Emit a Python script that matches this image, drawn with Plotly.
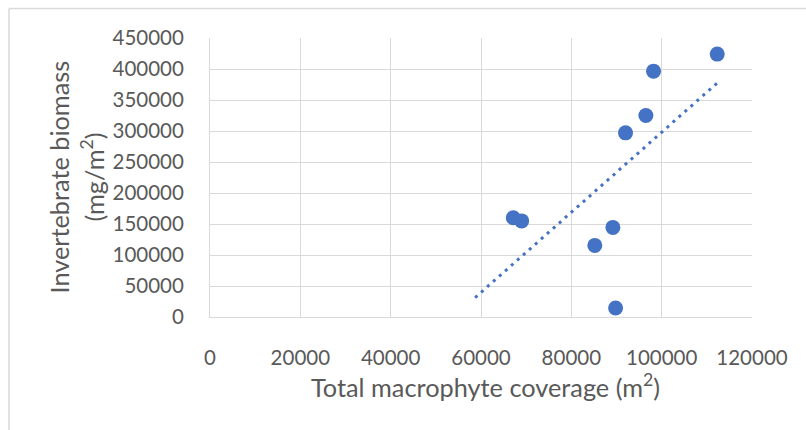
import numpy as np
import plotly.graph_objects as go

# Data
coverage_m2 = [112300, 98200, 96500, 92000, 67150, 69000, 89200, 85200, 89800]
biomass_mg_m2 = [424000, 396500, 325000, 297000, 160000, 155000, 144500, 115500, 14500]

# trendline (linear fit) with backward forecast start
trend_start = 58700

x_ticks = [0, 20000, 40000, 60000, 80000, 100000, 120000]
y_ticks = [0, 50000, 100000, 150000, 200000, 250000, 300000, 350000, 400000, 450000]

x_title = "Total macrophyte coverage (m<sup>2</sup>)"
y_title_1 = "Invertebrate biomass"
y_title_2 = "(mg/m<sup>2</sup>)"

slope, intercept = np.polyfit(coverage_m2, biomass_mg_m2, 1)
tx = np.array([trend_start, max(coverage_m2)])
ty = slope * tx + intercept

BLUE = "#4472C4"
GRID = "#D9D9D9"
TXT = "#595959"
FONT = "Lato"
TICK_SIZE = 20.5
TITLE_SIZE = 25.3

fig = go.Figure()
fig.add_trace(go.Scatter(x=tx, y=ty, mode="lines",
                         line=dict(color=BLUE, width=3, dash="3px,5px"),
                         hoverinfo="skip", showlegend=False))
fig.add_trace(go.Scatter(x=coverage_m2, y=biomass_mg_m2, mode="markers",
                         marker=dict(color=BLUE, size=15, line=dict(width=0)),
                         showlegend=False))

W, H = 806, 430
L, R, T, B = 210, 54, 38, 113
pw, ph = W - L - R, H - T - B

def px_x(p):
    return (p - L) / pw

def px_y(p):
    return (H - B - p) / ph

title_font = dict(family=FONT, size=TITLE_SIZE, color=TXT)

fig.update_layout(
    width=W, height=H,
    margin=dict(l=L, r=R, t=T, b=B, autoexpand=False),
    paper_bgcolor="white", plot_bgcolor="white",
    font=dict(family=FONT, size=TICK_SIZE, color=TXT),
    xaxis=dict(range=[0, 120000], tickvals=x_ticks, ticktext=[str(v) for v in x_ticks],
               showgrid=True, gridcolor=GRID, gridwidth=1, zeroline=False,
               showline=True, linecolor=GRID, linewidth=1, ticks="",
               ticklabelstandoff=22, automargin=False),
    yaxis=dict(range=[0, 450000], tickvals=y_ticks, ticktext=[str(v) for v in y_ticks],
               showgrid=True, gridcolor=GRID, gridwidth=1, zeroline=False,
               showline=True, linecolor=GRID, linewidth=1, ticks="",
               ticklabelstandoff=21, automargin=False),
    annotations=[
        dict(text=x_title, xref="paper", yref="paper", x=px_x(485), y=px_y(385),
             xanchor="center", yanchor="middle", showarrow=False, font=title_font),
        dict(text=y_title_1, xref="paper", yref="paper", x=px_x(58), y=0.5,
             xanchor="center", yanchor="middle", showarrow=False, textangle=-90,
             font=title_font),
        dict(text=y_title_2, xref="paper", yref="paper", x=px_x(93), y=0.5,
             xanchor="center", yanchor="middle", showarrow=False, textangle=-90,
             font=title_font),
    ],
    shapes=[
        dict(type="line", xref="paper", yref="paper", x0=px_x(9), x1=px_x(806),
             y0=px_y(8.5), y1=px_y(8.5), line=dict(color=GRID, width=1.5)),
        dict(type="line", xref="paper", yref="paper", x0=px_x(9), x1=px_x(9),
             y0=px_y(8.5), y1=px_y(430), line=dict(color=GRID, width=1.5)),
    ],
)

fig.write_html("out.html")
